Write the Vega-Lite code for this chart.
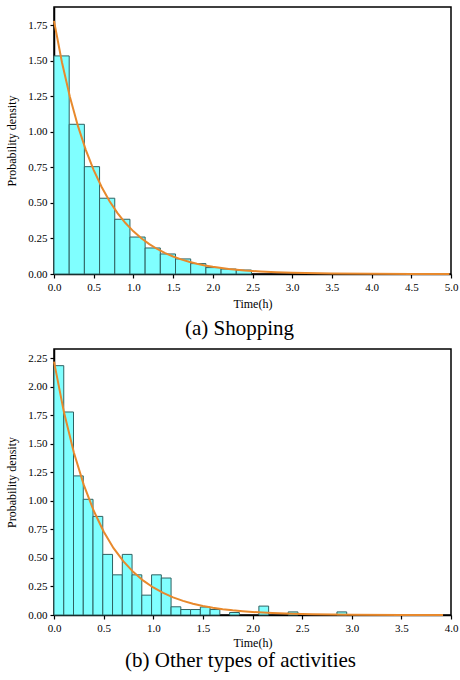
{
  "$schema": "https://vega.github.io/schema/vega-lite/v6.json",
  "padding": {"left": 5, "top": 6, "right": 8, "bottom": 5},
  "background": "white",
  "config": {
    "font": "Liberation Serif",
    "view": {"stroke": "#000000", "strokeWidth": 1.5, "strokeOpacity": 1},
    "axis": {
      "grid": false,
      "domain": true,
      "ticks": true,
      "labelFlush": false,
      "labelOverlap": false,
      "labelFont": "Liberation Serif",
      "titleFont": "Liberation Serif",
      "labelFontSize": 11,
      "titleFontSize": 12,
      "titleFontWeight": "normal",
      "labelColor": "black",
      "titleColor": "black",
      "tickColor": "#000000",
      "domainColor": "#000000",
      "tickWidth": 1.2,
      "domainWidth": 1.5,
      "tickSize": 4,
      "labelPadding": 3
    },
    "title": {"font": "Liberation Serif", "fontSize": 21, "fontWeight": "normal", "color": "black"}
  },
  "datasets": {
    "barsA": [
      {"x0": 0, "x1": 0.1913, "density": 1.534},
      {"x0": 0.1913, "x1": 0.3826, "density": 1.053},
      {"x0": 0.3826, "x1": 0.5739, "density": 0.755},
      {"x0": 0.5739, "x1": 0.7652, "density": 0.533},
      {"x0": 0.7652, "x1": 0.9565, "density": 0.385},
      {"x0": 0.9565, "x1": 1.1478, "density": 0.26},
      {"x0": 1.1478, "x1": 1.3391, "density": 0.183},
      {"x0": 1.3391, "x1": 1.5304, "density": 0.141},
      {"x0": 1.5304, "x1": 1.7217, "density": 0.106},
      {"x0": 1.7217, "x1": 1.913, "density": 0.073},
      {"x0": 1.913, "x1": 2.1043, "density": 0.045},
      {"x0": 2.1043, "x1": 2.2956, "density": 0.035},
      {"x0": 2.2956, "x1": 2.4869, "density": 0.028}
    ],
    "curveA": [
      {"x0": 0, "density": 1.78}, {"x0": 0.1, "density": 1.4897}, {"x0": 0.2, "density": 1.2467}, {"x0": 0.3, "density": 1.0434},
      {"x0": 0.4, "density": 0.8732}, {"x0": 0.5, "density": 0.7308}, {"x0": 0.6, "density": 0.6116}, {"x0": 0.7, "density": 0.5118},
      {"x0": 0.8, "density": 0.4284}, {"x0": 0.9, "density": 0.3585}, {"x0": 1.0, "density": 0.3}, {"x0": 1.1, "density": 0.2511},
      {"x0": 1.2, "density": 0.2101}, {"x0": 1.3, "density": 0.1759}, {"x0": 1.4, "density": 0.1472}, {"x0": 1.5, "density": 0.1232},
      {"x0": 1.6, "density": 0.1031}, {"x0": 1.7, "density": 0.0863}, {"x0": 1.8, "density": 0.0722}, {"x0": 1.9, "density": 0.0604},
      {"x0": 2.0, "density": 0.0506}, {"x0": 2.2, "density": 0.0354}, {"x0": 2.4, "density": 0.0248}, {"x0": 2.6, "density": 0.0174},
      {"x0": 2.8, "density": 0.0122}, {"x0": 3.0, "density": 0.0085}, {"x0": 3.5, "density": 0.0035}, {"x0": 4.0, "density": 0.0014},
      {"x0": 4.5, "density": 0.0006}, {"x0": 4.98, "density": 0.0002}
    ],
    "barsB": [
      {"x0": 0, "x1": 0.0983, "density": 2.185},
      {"x0": 0.0983, "x1": 0.1966, "density": 1.779},
      {"x0": 0.1966, "x1": 0.2949, "density": 1.219},
      {"x0": 0.2949, "x1": 0.3932, "density": 1.014},
      {"x0": 0.3932, "x1": 0.4915, "density": 0.864},
      {"x0": 0.4915, "x1": 0.5898, "density": 0.531},
      {"x0": 0.5898, "x1": 0.6881, "density": 0.352},
      {"x0": 0.6881, "x1": 0.7864, "density": 0.531},
      {"x0": 0.7864, "x1": 0.8847, "density": 0.352},
      {"x0": 0.8847, "x1": 0.983, "density": 0.174},
      {"x0": 0.983, "x1": 1.0813, "density": 0.352},
      {"x0": 1.0813, "x1": 1.1796, "density": 0.324},
      {"x0": 1.1796, "x1": 1.2779, "density": 0.072},
      {"x0": 1.2779, "x1": 1.3762, "density": 0.048},
      {"x0": 1.3762, "x1": 1.4745, "density": 0.048},
      {"x0": 1.4745, "x1": 1.5728, "density": 0.07},
      {"x0": 1.5728, "x1": 1.6711, "density": 0.048},
      {"x0": 1.7694, "x1": 1.8677, "density": 0.022},
      {"x0": 2.0643, "x1": 2.1626, "density": 0.078},
      {"x0": 2.3592, "x1": 2.4575, "density": 0.027},
      {"x0": 2.8507, "x1": 2.949, "density": 0.027}
    ],
    "curveB": [
      {"x0": 0, "density": 2.22}, {"x0": 0.1, "density": 1.778}, {"x0": 0.2, "density": 1.424}, {"x0": 0.3, "density": 1.14},
      {"x0": 0.4, "density": 0.9134}, {"x0": 0.5, "density": 0.7315}, {"x0": 0.6, "density": 0.5859}, {"x0": 0.7, "density": 0.4692},
      {"x0": 0.8, "density": 0.3758}, {"x0": 0.9, "density": 0.301}, {"x0": 1.0, "density": 0.2411}, {"x0": 1.1, "density": 0.1931},
      {"x0": 1.2, "density": 0.1546}, {"x0": 1.3, "density": 0.1238}, {"x0": 1.4, "density": 0.0992}, {"x0": 1.5, "density": 0.0794},
      {"x0": 1.6, "density": 0.0636}, {"x0": 1.7, "density": 0.051}, {"x0": 1.8, "density": 0.0408}, {"x0": 1.9, "density": 0.0327},
      {"x0": 2.0, "density": 0.0262}, {"x0": 2.2, "density": 0.0168}, {"x0": 2.4, "density": 0.0108}, {"x0": 2.6, "density": 0.0069},
      {"x0": 2.8, "density": 0.0044}, {"x0": 3.0, "density": 0.0028}, {"x0": 3.5, "density": 0.0009}, {"x0": 3.92, "density": 0.0003}
    ]
  },
  "spacing": 8,
  "vconcat": [
    {
      "width": 397,
      "height": 267,
      "title": {"text": "(a) Shopping", "orient": "bottom", "anchor": "middle", "dx": -13, "offset": 9},
      "encoding": {
        "x": {"field": "x0", "type": "quantitative", "scale": {"domain": [0, 5], "nice": false},
              "axis": {"title": "Time(h)", "values": [0, 0.5, 1, 1.5, 2, 2.5, 3, 3.5, 4, 4.5, 5], "format": ".1f", "titlePadding": 6, "labelOverlap": false, "labelFlush": false}},
        "y": {"field": "density", "type": "quantitative", "scale": {"domain": [0, 1.878], "nice": false},
              "axis": {"title": "Probability density", "values": [0, 0.25, 0.5, 0.75, 1, 1.25, 1.5, 1.75], "format": ".2f", "titlePadding": 9, "labelOverlap": false, "labelFlush": false}}
      },
      "layer": [
        {
          "data": {"name": "barsA"},
          "mark": {"type": "bar", "fill": "#80ffff", "stroke": "#2f6262", "strokeWidth": 1},
          "encoding": {
            "x2": {"field": "x1"},
            "y2": {"datum": 0}
          }
        },
        {
          "data": {"name": "curveA"},
          "mark": {"type": "line", "color": "#e8892c", "strokeWidth": 2},
          "encoding": {}
        }
      ]
    },
    {
      "width": 397,
      "height": 266,
      "title": {"text": "(b) Other types of activities", "orient": "bottom", "anchor": "middle", "dx": -12, "offset": 2},
      "encoding": {
        "x": {"field": "x0", "type": "quantitative", "scale": {"domain": [0, 4], "nice": false},
              "axis": {"title": "Time(h)", "values": [0, 0.5, 1, 1.5, 2, 2.5, 3, 3.5, 4], "format": ".1f", "titlePadding": 4, "labelOverlap": false, "labelFlush": false}},
        "y": {"field": "density", "type": "quantitative", "scale": {"domain": [0, 2.331], "nice": false},
              "axis": {"title": "Probability density", "values": [0, 0.25, 0.5, 0.75, 1, 1.25, 1.5, 1.75, 2, 2.25], "format": ".2f", "titlePadding": 9, "labelOverlap": false, "labelFlush": false}}
      },
      "layer": [
        {
          "data": {"name": "barsB"},
          "mark": {"type": "bar", "fill": "#80ffff", "stroke": "#2f6262", "strokeWidth": 1},
          "encoding": {
            "x2": {"field": "x1"},
            "y2": {"datum": 0}
          }
        },
        {
          "data": {"name": "curveB"},
          "mark": {"type": "line", "color": "#e8892c", "strokeWidth": 2},
          "encoding": {}
        }
      ]
    }
  ]
}
